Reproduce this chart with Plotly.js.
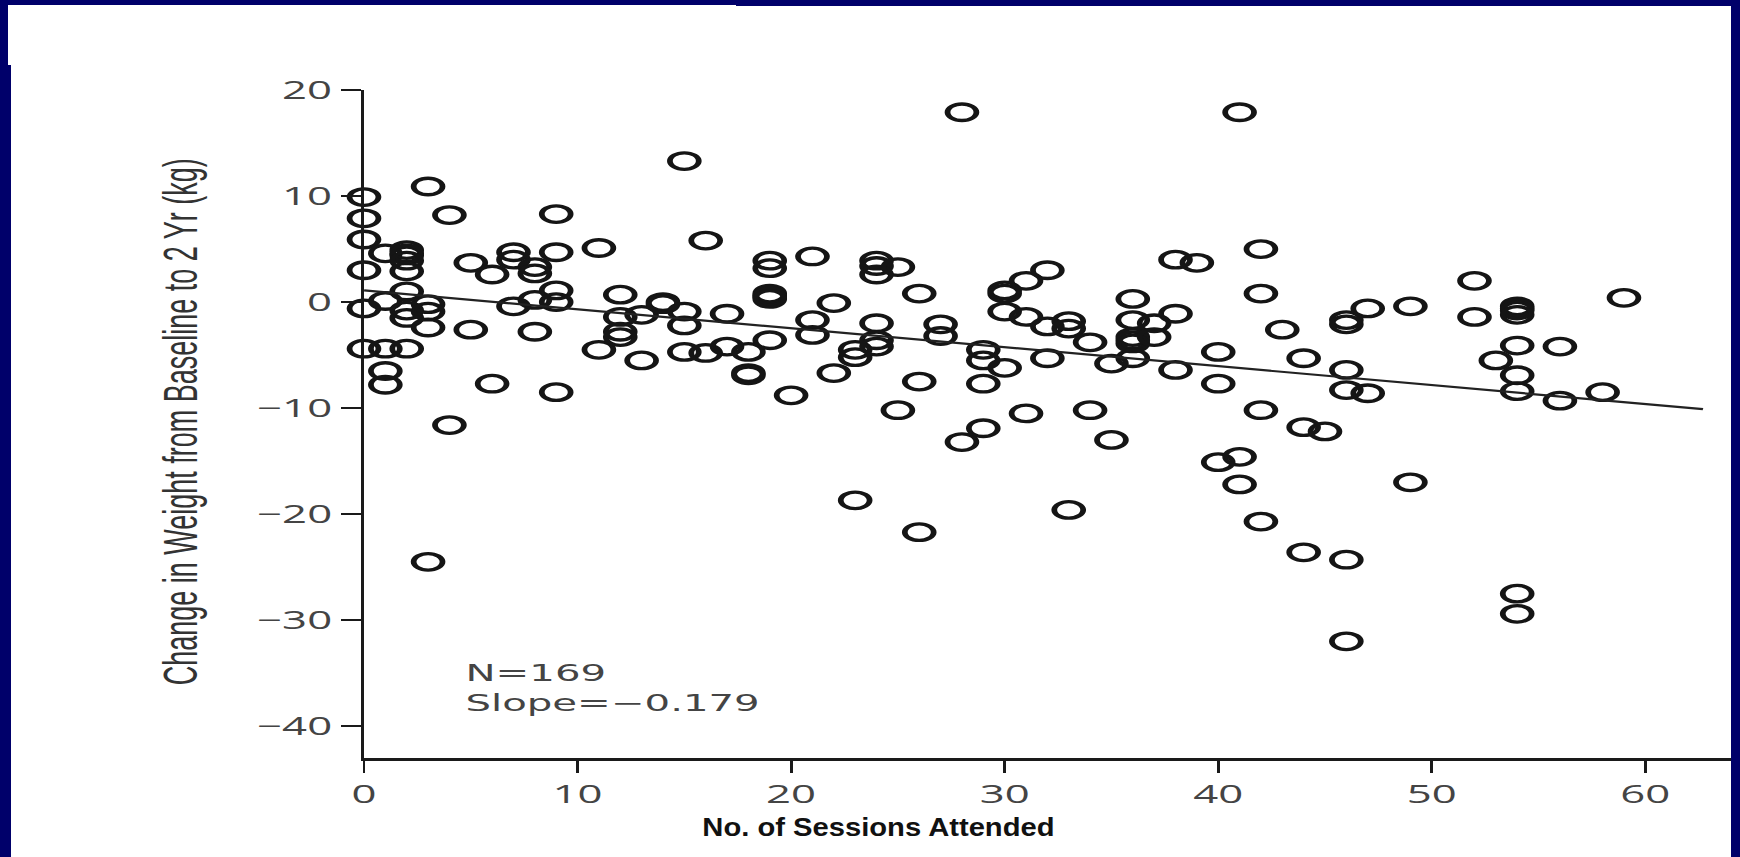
<!DOCTYPE html>
<html>
<head>
<meta charset="utf-8">
<script src="https://cdn.plot.ly/plotly-3.0.1.min.js"></script>
<style>
  html, body { margin: 0; padding: 0; width: 1740px; height: 857px; overflow: hidden; background: #00006a; }
  .paper { position: absolute; background: #ffffff; }
  #wrap { position: absolute; left: 0; top: 0; height: 857px; transform-origin: 0 0; }
</style>
</head>
<body>
<div class="paper" style="left:8px;top:5px;width:728px;height:60px;"></div>
<div class="paper" style="left:11px;top:65px;width:725px;height:792px;"></div>
<div class="paper" style="left:736px;top:6px;width:995px;height:851px;"></div>
<div id="wrap"><div id="chart"></div></div>
<script>
// ---- data ----
const sessions = [
  0,0,0,0,0,0,
  1,1,1,1,1,
  2,2,2,2,2,2,2,2,2,
  3,3,3,3,3,
  4,4,
  5,5,
  6,6,
  7,7,7,
  8,8,8,8,
  9,9,9,9,9,
  11,11,
  12,12,12,12,
  13,13,
  14,14,
  15,15,15,15,
  16,16,
  17,17,
  18,18,18,
  19,19,19,19,19,19,19,
  20,
  21,21,21,
  22,22,
  23,23,23,
  24,24,24,24,24,24,
  25,25,
  26,26,26,
  27,27,
  28,28,
  29,29,29,29,
  30,30,30,30,
  31,31,31,
  32,32,32,
  33,33,33,
  34,34,
  35,35,
  36,36,36,36,36,36,
  37,37,
  38,38,38,
  39,
  40,40,40,
  41,41,41,
  42,42,42,42,
  43,
  44,44,44,
  45,
  46,46,46,46,46,46,
  47,47,
  49,49,
  52,52,
  53,
  54,54,54,54,54,54,54,54,54,
  56,56,
  58,
  59
];
const weightChange = [
  9.9, 7.9, 5.9, 3.0, -0.6, -4.4,
  4.6, 0.1, -4.4, -6.5, -7.8,
  4.9, 4.4, 4.6, 3.9, 2.9, 1.0, -0.8, -1.5, -4.4,
  10.9, -0.2, -0.9, -2.4, -24.5,
  8.2, -11.6,
  3.7, -2.6,
  2.6, -7.7,
  4.7, 4.0, -0.4,
  3.3, 2.7, 0.2, -2.8,
  8.3, 4.7, 1.1, 0.0, -8.5,
  5.1, -4.5,
  0.7, -1.4, -2.8, -3.3,
  -1.2, -5.5,
  0.0, -0.2,
  13.3, -0.9, -2.2, -4.7,
  5.8, -4.8,
  -1.1, -4.2,
  -4.7, -6.7, -6.9,
  3.9, 3.2, 0.8, 0.6, 0.5, 0.3, -3.6,
  -8.8,
  4.3, -1.7, -3.1,
  -0.1, -6.7,
  -4.5, -5.2, -18.7,
  3.9, 3.4, 2.6, -2.0, -3.6, -4.2,
  3.3, -10.2,
  0.8, -7.5, -21.7,
  -2.1, -3.2,
  17.9, -13.2,
  -4.5, -5.5, -7.7, -11.9,
  1.1, 0.8, -0.9, -6.2,
  2.0, -1.4, -10.5,
  3.0, -2.3, -5.3,
  -1.8, -2.5, -19.6,
  -3.8, -10.2,
  -5.8, -13.0,
  0.3, -1.7, -3.3, -3.6, -3.9, -5.3,
  -2.0, -3.3,
  4.0, -1.1, -6.4,
  3.7,
  -4.7, -7.7, -15.1,
  17.9, -14.6, -17.2,
  5.0, 0.8, -10.2, -20.7,
  -2.6,
  -5.3, -11.8, -23.6,
  -12.2,
  -1.7, -2.1, -6.4, -8.3, -24.3, -32.0,
  -0.6, -8.6,
  -0.4, -17.0,
  2.0, -1.4,
  -5.5,
  -0.4, -0.6, -0.8, -1.2, -4.1, -6.9, -8.4, -27.5, -29.4,
  -4.2, -9.3,
  -8.5,
  0.4
];
const fitX = [0, 62.7];
const fitY = [1.1, -10.1];
const xTicks = [0, 10, 20, 30, 40, 50, 60];
const yTicks = [-40, -30, -20, -10, 0, 10, 20];
const statLines = ['N=169', 'Slope=\u22120.179'];
const xTitle = 'No. of Sessions Attended';
const yTitle = 'Change in Weight from Baseline to 2 Yr (kg)';

// ---- the original figure is stretched horizontally ----
const SCALE = 1.75;
const W = 1740 / SCALE;
const wrap = document.getElementById('wrap');
wrap.style.width = W + 'px';
wrap.style.transform = 'scaleX(' + SCALE + ')';

const plotLeft = 363.5 / SCALE;
const plotRight = 1731 / SCALE;

const tickFont = { family: 'Open Sans, Liberation Sans, sans-serif', size: 25, color: '#444444' };

const traces = [
  {
    type: 'scatter', mode: 'markers',
    x: sessions, y: weightChange,
    marker: { symbol: 'circle-open', size: 16.5, color: '#151515', line: { width: 3.3 } },
    cliponaxis: false, hoverinfo: 'skip'
  },
  {
    type: 'scatter', mode: 'lines',
    x: fitX, y: fitY,
    line: { color: '#222222', width: 2.2 },
    cliponaxis: false, hoverinfo: 'skip'
  }
];

const layout = {
  width: W, height: 857,
  margin: { l: plotLeft, r: W - plotRight, t: 90, b: 99, pad: 0 },
  paper_bgcolor: 'rgba(0,0,0,0)', plot_bgcolor: 'rgba(0,0,0,0)',
  showlegend: false,
  xaxis: {
    range: [0, 64], tickmode: 'array', tickvals: xTicks,
    ticks: 'outside', ticklen: 12, tickwidth: 1.7, tickcolor: '#1a1a1a',
    showline: true, linewidth: 3, linecolor: '#1a1a1a',
    showgrid: false, zeroline: false, tickfont: tickFont, fixedrange: true
  },
  yaxis: {
    range: [-43, 20], tickmode: 'array', tickvals: yTicks,
    ticks: 'outside', ticklen: 11.4, tickwidth: 2.5, tickcolor: '#1a1a1a',
    showline: true, linewidth: 1.8, linecolor: '#1a1a1a',
    showgrid: false, zeroline: false, tickfont: tickFont, fixedrange: true
  },
  annotations: [
    { xref: 'x', yref: 'y', x: 4.6, y: -36.4, xanchor: 'left', yanchor: 'middle', align: 'left', showarrow: false,
      text: statLines.join('<br>'),
      font: { family: 'DejaVu Sans, sans-serif', size: 23, color: '#444444' } },
    { xref: 'paper', yref: 'paper', x: 0.376, y: -0.103, xanchor: 'center', yanchor: 'middle', showarrow: false,
      text: '<b>' + xTitle + '</b>',
      font: { family: 'Liberation Sans, Arial, sans-serif', size: 25, color: '#111111' } },
    { xref: 'paper', yref: 'paper', x: -0.134, y: 0.503, xanchor: 'center', yanchor: 'middle', showarrow: false,
      textangle: -90, text: yTitle,
      font: { family: 'Liberation Sans, Arial, sans-serif', size: 27, color: '#333333' } }
  ]
};

Plotly.newPlot('chart', traces, layout, { displayModeBar: false, staticPlot: true }).then(function (gd) {
  // the x-axis title of the reference is less stretched than the rest of the figure
  const ann = gd.querySelector('.annotation[data-index="1"]');
  if (ann) {
    const bb = ann.getBBox();
    const cx = bb.x + bb.width / 2;
    const k = 0.667;
    ann.setAttribute('transform', 'translate(' + cx + ',0) scale(' + k + ',1) translate(' + (-cx) + ',0)');
  }
});
</script>
</body>
</html>
